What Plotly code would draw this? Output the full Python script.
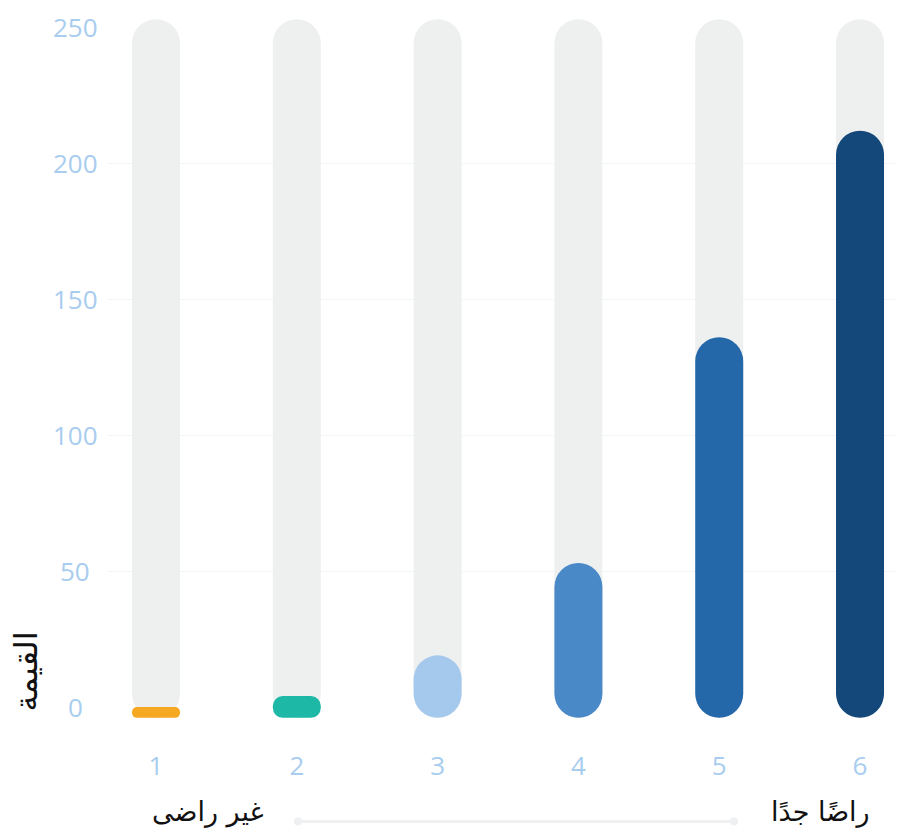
import plotly.graph_objects as go

# ---- data ----
categories = [1, 2, 3, 4, 5, 6]
values = [0, 4, 19, 53, 136, 212]
bar_colors = ["#F7A823", "#1DB8A6", "#A4C9EC", "#4A89C8", "#2468A9", "#14477A"]
track_top = 253
bar_floor = -4
y_ticks = [0, 50, 100, 150, 200, 250]
axis_title = "القيمة"
low_label = "غير راضى"
high_label = "راضًا جدًا"

TRACK_COLOR = "#EEF0F0"
TICK_COLOR = "#A8CDEF"
BAR_W = 0.341
RADIUS = 24
OFF = 8  # page body margin

fig = go.Figure()

# background tracks
fig.add_trace(go.Bar(x=categories, y=[track_top - bar_floor] * len(categories),
                     base=[bar_floor] * len(categories), width=BAR_W,
                     marker=dict(color=TRACK_COLOR, cornerradius=RADIUS, line=dict(width=0)),
                     hoverinfo="skip", showlegend=False))

# value bars
fig.add_trace(go.Bar(x=categories, y=[v - bar_floor for v in values],
                     base=[bar_floor] * len(values), width=BAR_W,
                     marker=dict(color=bar_colors, cornerradius=RADIUS, line=dict(width=0)),
                     customdata=values, hovertemplate="%{x}: %{customdata}<extra></extra>",
                     showlegend=False))

L, R, T = 100, 10, 2
B = 832 - T - 263.4 * 2.72
fig.update_layout(
    width=903, height=832,
    margin=dict(l=L, r=R, t=T, b=B, pad=0, autoexpand=False),
    barmode="overlay",
    plot_bgcolor="white", paper_bgcolor="white",
    font=dict(family="Open Sans, DejaVu Sans", size=26, color=TICK_COLOR),
    xaxis=dict(range=[0.659, 6.291], tickvals=categories, ticktext=[str(c) for c in categories],
               showgrid=False, zeroline=False, showline=False, ticks="", automargin=False,
               ticklabelstandoff=22, tickfont=dict(size=26, color=TICK_COLOR)),
    yaxis=dict(range=[-7, 256.4], tickvals=[t for t in y_ticks if 0 < t < 250],
               showticklabels=False, showgrid=True, gridcolor="#F2F4F6", gridwidth=1,
               zeroline=False, showline=False, automargin=False),
)

pw, ph = 903 - L - R, 832 - T - B
def px(xs):
    return (xs - OFF - L) / pw
def py(ys):
    return (832 - B - (ys - OFF)) / ph

# y tick labels (centered)
for t in y_ticks:
    fig.add_annotation(x=px(75), xref="paper", y=t, yref="y", text=str(t), showarrow=False,
                       xanchor="center", yanchor="middle",
                       font=dict(family="Open Sans", size=26, color=TICK_COLOR))

# axis title
fig.add_annotation(x=px(26), y=py(672), xref="paper", yref="paper", text=axis_title, showarrow=False,
                   textangle=-90, xanchor="center", yanchor="middle",
                   font=dict(family="DejaVu Sans", size=32, color="#111111"))

# bottom scale labels
fig.add_annotation(x=px(208), y=py(813), xref="paper", yref="paper", text=low_label, showarrow=False,
                   xanchor="center", yanchor="middle",
                   font=dict(family="DejaVu Sans", size=27, color="#111111"))
fig.add_annotation(x=px(820), y=py(813), xref="paper", yref="paper", text=high_label, showarrow=False,
                   xanchor="center", yanchor="middle",
                   font=dict(family="DejaVu Sans", size=27, color="#111111"))

# faint scale arrow
fig.add_shape(type="line", xref="paper", yref="paper", x0=px(298), x1=px(734), y0=py(822), y1=py(822),
              line=dict(color="#EEF0F2", width=3))
for xp in (298, 734):
    fig.add_shape(type="circle", xref="paper", yref="paper", x0=px(xp - 4), x1=px(xp + 4),
                  y0=py(826), y1=py(818), fillcolor="#EEF0F2", line=dict(width=0))

fig.write_html("out.html")
